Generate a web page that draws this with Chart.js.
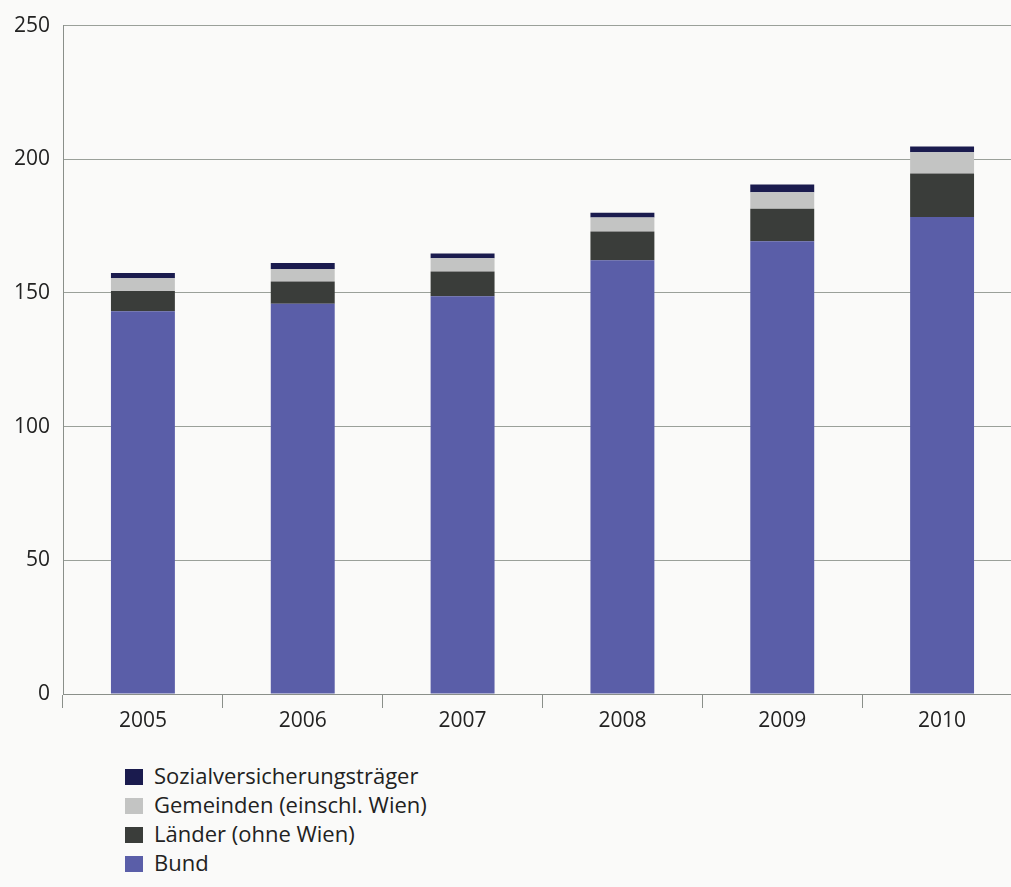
<!DOCTYPE html>
<html>
<head>
<meta charset="utf-8">
<script src="https://cdn.jsdelivr.net/npm/chart.js@4"></script>
<style>
  html, body { margin: 0; padding: 0; background: #fafaf9; overflow: hidden; }
  #wrap { position: relative; width: 1030px; height: 740px; }
  #legend { position: absolute; left: 125px; top: 764px; font-family: "Open Sans", sans-serif; font-size: 22px; color: #222; }
  .item { height: 29px; line-height: 22px; white-space: nowrap; }
  .box { display: inline-block; width: 18px; height: 16px; vertical-align: -1px; margin-right: 11px; }
</style>
</head>
<body>
<div id="wrap"><canvas id="chart" width="1030" height="740"></canvas></div>
<div id="legend"></div>
<script>
const years = ["2005", "2006", "2007", "2008", "2009", "2010"];
const bund = [143.2, 146.0, 148.8, 162.2, 169.3, 178.4];
const laender = [7.5, 8.3, 9.2, 10.8, 12.2, 16.3];
const gemeinden = [4.8, 4.7, 5.0, 5.2, 6.2, 7.9];
const sozial = [2.0, 2.2, 1.8, 1.8, 2.9, 2.2];
const yTicks = [0, 50, 100, 150, 200, 250];

const seriesNames = ["Bund", "Länder (ohne Wien)", "Gemeinden (einschl. Wien)", "Sozialversicherungsträger"];
const seriesColors = ["#5a5ea8", "#3a3d3a", "#c3c4c3", "#1a1b4e"];
const seriesValues = [bund, laender, gemeinden, sozial];

const datasets = seriesValues.map(function (vals, i) {
  return {
    label: seriesNames[i],
    data: vals,
    backgroundColor: seriesColors[i],
    borderWidth: 0,
    barPercentage: 0.4,
    categoryPercentage: 1.0,
  };
});

const tickFont = { family: "'Open Sans', 'Liberation Sans', sans-serif", size: 21 };

const ctx = document.getElementById("chart");
new Chart(ctx, {
  type: "bar",
  data: { labels: years, datasets: datasets },
  options: {
    responsive: false,
    animation: false,
    layout: { padding: { top: 22, right: 8, left: 0, bottom: 0 } },
    plugins: {
      legend: { display: false },
      tooltip: { enabled: false },
    },
    scales: {
      x: {
        stacked: true,
        grid: {
          offset: true,
          drawOnChartArea: false,
          drawTicks: true,
          tickLength: 14,
          color: "#8a8f8a",
        },
        border: { color: "#8a8f8a" },
        ticks: { color: "#222", font: tickFont, padding: 0 },
        afterFit: function (scale) { scale.height = 46; },
      },
      y: {
        stacked: true,
        min: 0,
        max: 250,
        afterBuildTicks: function (scale) {
          scale.ticks = yTicks.map(function (v) { return { value: v }; });
        },
        grid: { color: "#9aa09a", drawTicks: false },
        border: { color: "#8a8f8a" },
        ticks: { color: "#222", font: tickFont, padding: 13 },
        afterFit: function (scale) { scale.width = 63; },
      },
    },
  },
});

const legend = document.getElementById("legend");
for (let i = datasets.length - 1; i >= 0; i--) {
  const row = document.createElement("div");
  row.className = "item";
  row.innerHTML = '<span class="box" style="background:' + seriesColors[i] + '"></span>' + seriesNames[i];
  legend.appendChild(row);
}
</script>
</body>
</html>
